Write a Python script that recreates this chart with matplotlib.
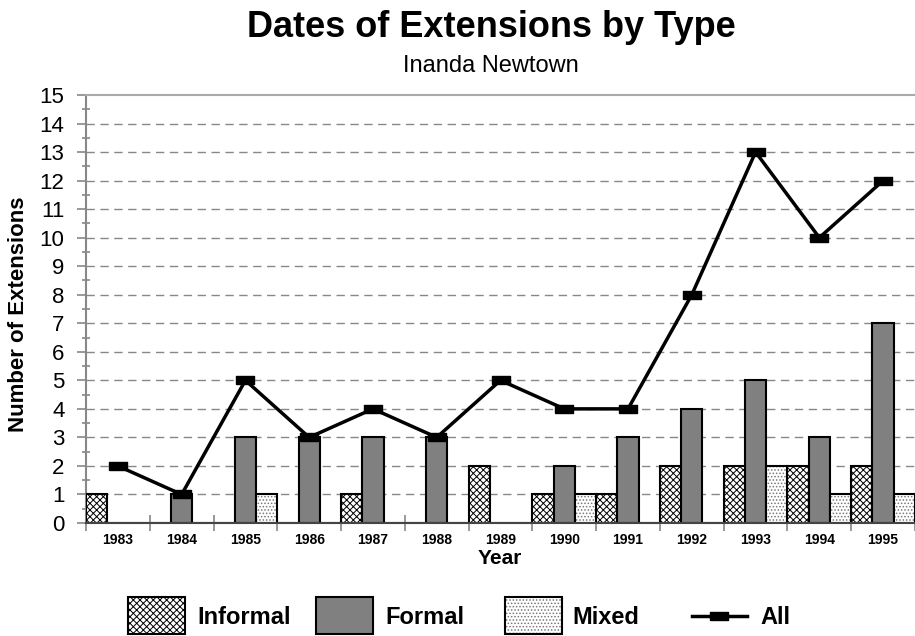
import matplotlib
matplotlib.use("Agg")
import matplotlib.pyplot as plt
from matplotlib.patches import Rectangle
from matplotlib.lines import Line2D
import numpy as np

plt.rcParams['font.family'] = ['Liberation Sans', 'DejaVu Sans']
plt.rcParams['hatch.linewidth'] = 0.7

years = ['1983', '1984', '1985', '1986', '1987', '1988', '1989',
         '1990', '1991', '1992', '1993', '1994', '1995']
informal = [1, 0, 0, 0, 1, 0, 2, 1, 1, 2, 2, 2, 2]
formal = [0, 1, 3, 3, 3, 3, 0, 2, 3, 4, 5, 3, 7]
mixed = [0, 0, 1, 0, 0, 0, 0, 1, 0, 0, 2, 1, 1]
all_ext = [2, 1, 5, 3, 4, 3, 5, 4, 4, 8, 13, 10, 12]
series_names = ['Informal', 'Formal', 'Mixed', 'All']

W, H = 915, 636
fig = plt.figure(figsize=(W / 100, H / 100), dpi=100)
ax = fig.add_axes([86 / W, 1 - 523 / H, (W - 86) / W, (523 - 95) / H])

x = np.arange(len(years))
bw = 1 / 3

# Informal
ax.bar(x - bw, informal, width=bw, align='center', facecolor='white',
       edgecolor='black', linewidth=1.5, hatch='xxxxx', zorder=3)
# Formal
ax.bar(x, formal, width=bw, align='center', facecolor='#808080',
       edgecolor='black', linewidth=1.5, zorder=3)
# Mixed: dotted fill in gray, then outline
ax.bar(x + bw, mixed, width=bw, align='center', facecolor='white',
       edgecolor='#777777', linewidth=0, hatch='.....', zorder=3)
ax.bar(x + bw, mixed, width=bw, align='center', facecolor='none',
       edgecolor='black', linewidth=1.5, zorder=3.1)

rect_marker = [(-1, -0.5), (1, -0.5), (1, 0.5), (-1, 0.5), (-1, -0.5)]
ax.plot(x, all_ext, color='black', linewidth=2.5, marker=rect_marker,
        markersize=12.5, markerfacecolor='black', markeredgecolor='black',
        zorder=5, clip_on=False)

ax.set_xlim(-0.5, len(years) - 0.5 - 4 / 64.0)
ax.set_ylim(0, 15)

# y axis
ax.set_yticks(np.arange(0, 16, 1))
ax.set_yticks(np.arange(0.5, 15, 1), minor=True)
ax.tick_params(axis='y', which='major', direction='out', length=6.5,
               width=1.2, color='#888888', labelsize=16, pad=9)
ax.tick_params(axis='y', which='minor', direction='inout', length=6,
               width=1.2, color='#888888')
# x axis
ax.set_xticks(x)
ax.set_xticklabels(years, fontsize=10, fontweight='bold')
ax.set_xticks(np.arange(-0.5, len(years), 1), minor=True)
ax.tick_params(axis='x', which='major', length=0, pad=7)
ax.tick_params(axis='x', which='minor', direction='inout', length=11,
               width=1.2, color='#888888')

for yv in range(1, 15):
    ax.axhline(yv, color='#888888', linewidth=1.0, linestyle=(0, (6, 4)),
               zorder=1)

ax.spines['right'].set_visible(False)
ax.spines['top'].set_color('#aaaaaa')
ax.spines['top'].set_linewidth(1.5)
ax.spines['left'].set_color('#888888')
ax.spines['left'].set_linewidth(1.5)
ax.spines['bottom'].set_color('#444444')
ax.spines['bottom'].set_linewidth(1.5)
ax.spines['bottom'].set_zorder(4)

fig.text(19 / W, 1 - 314 / H, 'Number of Extensions', rotation=90,
         ha='center', va='center', fontsize=16, fontweight='bold')
fig.text(500 / W, 1 - 564 / H, 'Year', ha='center', va='baseline',
         fontsize=15, fontweight='bold')

fig.text(491 / W, 1 - 37 / H, 'Dates of Extensions by Type', ha='center',
         va='baseline', fontsize=26, fontweight='bold')
fig.text(491 / W, 1 - 72 / H, 'Inanda Newtown', ha='center',
         va='baseline', fontsize=17)

# Legend (manual, figure pixel coordinates)
def px(xp, yp):
    return xp / W, 1 - yp / H

box_h = 37
box_top = 597
legend_items = [
    (128, 197, dict(facecolor='white', hatch='xxxxx', edgecolor='black')),
    (316, 385, dict(facecolor='#808080', edgecolor='black')),
    (505, 572, dict(facecolor='white', hatch='.....', edgecolor='#777777')),
]
for (bx, tx, style), name in zip(legend_items, series_names[:3]):
    x0, y0 = px(bx, box_top + box_h)
    if name == 'Mixed':
        fig.patches.append(Rectangle((x0, y0), 57 / W, box_h / H,
                                     transform=fig.transFigure,
                                     linewidth=0, **style))
        fig.patches.append(Rectangle((x0, y0), 57 / W, box_h / H,
                                     transform=fig.transFigure,
                                     facecolor='none', edgecolor='black',
                                     linewidth=1.5))
    else:
        fig.patches.append(Rectangle((x0, y0), 57 / W, box_h / H,
                                     transform=fig.transFigure,
                                     linewidth=1.5, **style))
    tx0, ty0 = px(tx, 624)
    fig.text(tx0, ty0, name, ha='left', va='baseline', fontsize=17,
             fontweight='bold')

lx0, ly = px(692, 616)
lx1, _ = px(747, 616)
fig.lines.append(Line2D([lx0, lx1], [ly, ly], transform=fig.transFigure,
                        color='black', linewidth=2.5))
fig.lines.append(Line2D([(lx0 + lx1) / 2], [ly], transform=fig.transFigure,
                        color='black', marker=rect_marker, markersize=12.5,
                        linestyle='none'))
tx0, ty0 = px(760, 624)
fig.text(tx0, ty0, series_names[3], ha='left', va='baseline', fontsize=17,
         fontweight='bold')

fig.savefig('out.png', dpi=100)
